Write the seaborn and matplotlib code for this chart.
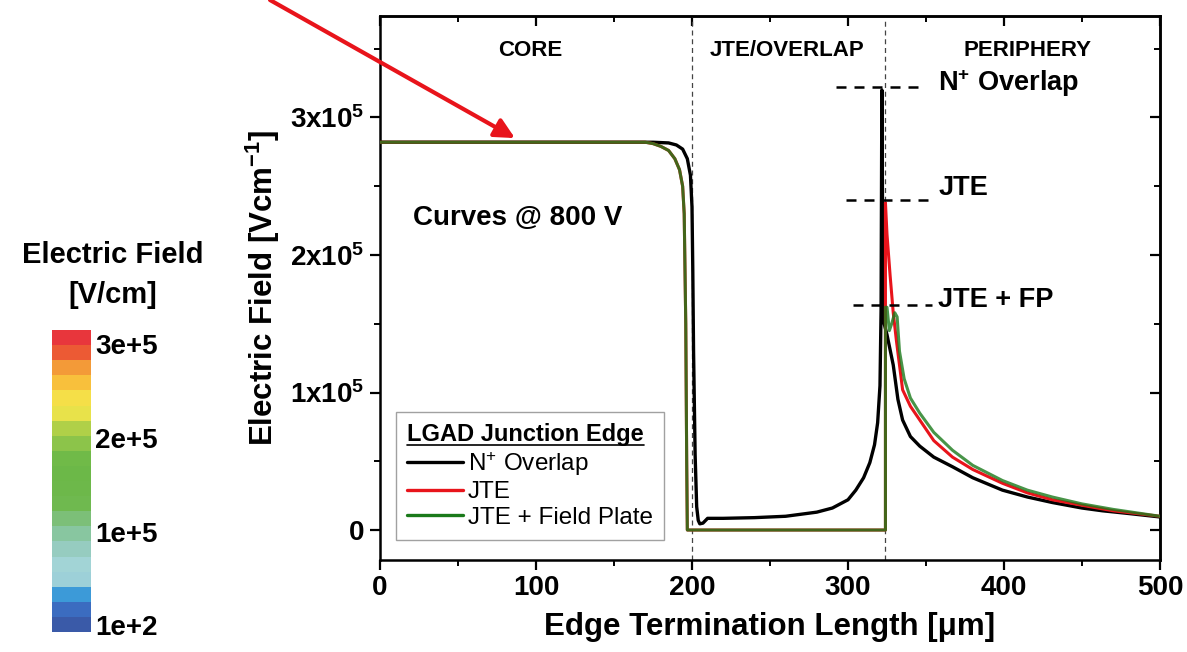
import matplotlib
matplotlib.use("Agg")
import matplotlib.pyplot as plt
import matplotlib as mpl
from matplotlib.colors import ListedColormap, Normalize
from matplotlib.lines import Line2D
import numpy as np
import pandas as pd
import seaborn as sns

# ---------------- data (field in units of 1e5 V/cm) ----------------
x_overlap = [0, 50, 100, 150, 175, 185, 190, 194, 197, 199, 200, 200.5, 201, 202, 203, 204,
             205, 207, 210, 220, 240, 260, 280, 290, 300, 305, 310, 314, 317, 319, 320.5,
             321.2, 321.7, 322.2, 322.6, 323.2, 325, 329, 332, 335, 340, 346, 355, 367, 380,
             399, 415, 431, 450, 463, 480, 500]
e_overlap = [2.82, 2.82, 2.82, 2.82, 2.82, 2.815, 2.80, 2.77, 2.70, 2.58, 2.35, 1.9, 1.3, 0.55,
             0.17, 0.07, 0.045, 0.05, 0.085, 0.085, 0.09, 0.10, 0.13, 0.16, 0.22, 0.29, 0.38,
             0.49, 0.62, 0.78, 1.05, 1.6, 3.2, 2.2, 1.7, 1.5, 1.42, 1.2, 0.95, 0.80, 0.68, 0.61,
             0.53, 0.46, 0.38, 0.29, 0.24, 0.20, 0.16, 0.14, 0.12, 0.095]

x_jte = [0, 50, 100, 150, 170, 175, 180, 185, 189, 192, 194, 195, 196, 196.6, 197, 250,
         324, 324, 325, 327, 329, 331, 333, 335, 340, 346, 355, 367, 380, 399, 415, 431,
         450, 470, 500]
e_jte = [2.82, 2.82, 2.82, 2.82, 2.82, 2.81, 2.79, 2.76, 2.70, 2.62, 2.50, 2.30, 1.50, 0.50,
         0.0, 0.0, 0.0, 2.38, 2.15, 1.85, 1.58, 1.38, 1.20, 1.02, 0.90, 0.80, 0.65, 0.53,
         0.44, 0.34, 0.27, 0.22, 0.18, 0.14, 0.10]

x_fp = [0, 50, 100, 150, 170, 175, 180, 185, 189, 192, 194, 195, 196, 196.6, 197, 250,
        324, 324, 325, 326.5, 328, 330, 331.5, 333, 336, 340, 346, 355, 367, 380, 399, 415,
        431, 450, 470, 500]
e_fp = [2.82, 2.82, 2.82, 2.82, 2.82, 2.81, 2.79, 2.76, 2.70, 2.62, 2.50, 2.30, 1.50, 0.50,
        0.0, 0.0, 0.0, 1.62, 1.62, 1.45, 1.50, 1.58, 1.55, 1.30, 1.10, 0.96, 0.85, 0.71,
        0.58, 0.47, 0.36, 0.29, 0.24, 0.19, 0.15, 0.10]

series_labels = [r"N$^{+}$ Overlap", "JTE", "JTE + Field Plate"]
series_colors = ["#000000", "#e8141b", "#1a7a1a"]

x_ticks = [0, 100, 200, 300, 400, 500]
y_ticks = [0, 1e5, 2e5, 3e5]
y_tick_labels = ["0", r"$\mathbf{1x10^{5}}$", r"$\mathbf{2x10^{5}}$", r"$\mathbf{3x10^{5}}$"]
region_labels = ["CORE", "JTE/OVERLAP", "PERIPHERY"]
region_x = [96, 261, 415]
region_bounds = [200, 324]

peak_labels = [r"N$^{\mathbf{+}}$ Overlap", "JTE", "JTE + FP"]
peak_values = [3.22e5, 2.40e5, 1.64e5]

cbar_colors = ["#3a5aa8", "#3b6cc0", "#3c9ad8", "#9dd0d8", "#a2d4d6", "#96ccc0", "#88c6a0",
               "#7cbf78", "#6fb94f", "#6db84a", "#6cb848", "#70ba48", "#8cc44a", "#b0d048",
               "#e8e24a", "#f5df48", "#f8c03c", "#f39a38", "#ec5a34", "#e8363c"]
cbar_ticks = [1e2, 1e5, 2e5, 3e5]
cbar_tick_labels = ["1e+2", "1e+5", "2e+5", "3e+5"]

# ---------------- style ----------------
sns.set_theme(style="ticks")
plt.rcParams["font.family"] = ["Liberation Sans", "DejaVu Sans"]
plt.rcParams["mathtext.fontset"] = "custom"
plt.rcParams["mathtext.rm"] = "Liberation Sans"
plt.rcParams["mathtext.bf"] = "Liberation Sans:bold"
plt.rcParams["mathtext.it"] = "Liberation Sans:italic"
for key in ["text.color", "axes.labelcolor", "xtick.color", "ytick.color", "axes.edgecolor"]:
    plt.rcParams[key] = "black"

W, H = 1187, 652
fig = plt.figure(figsize=(W / 100, H / 100), dpi=100)
fig.patch.set_facecolor("white")
ax = fig.add_axes([380 / W, 92 / H, 780 / W, 544 / H])
ax.set_facecolor("white")

# region separators
for xb in region_bounds:
    ax.axvline(xb, color="#444444", lw=0.9, ls=(0, (4, 3)), zorder=1)

frames = [
    pd.DataFrame({"x": x_overlap, "E": np.array(e_overlap) * 1e5}),
    pd.DataFrame({"x": x_jte, "E": np.array(e_jte) * 1e5}),
    pd.DataFrame({"x": x_fp, "E": np.array(e_fp) * 1e5}),
]
lws = [2.4, 2.2, 2.2]
alphas = [1.0, 1.0, 0.8]
for i, df in enumerate(frames):
    sns.lineplot(data=df, x="x", y="E", sort=False, estimator=None, color=series_colors[i],
                 lw=lws[i], alpha=alphas[i], ax=ax, legend=False, zorder=3 + i)

ax.set_xlim(0, 500)
ax.set_ylim(-0.218e5, 3.738e5)
ax.set_xticks(x_ticks)
ax.set_xticks(np.arange(50, 500, 100), minor=True)
ax.set_yticks(y_ticks)
ax.set_yticklabels(y_tick_labels)
ax.set_yticks(np.arange(0.5e5, 3.6e5, 1e5), minor=True)
for lab in ax.get_xticklabels() + ax.get_yticklabels():
    lab.set_fontweight("bold")
    lab.set_fontsize(20)
ax.tick_params(axis="both", which="major", direction="out", length=7, width=1.6, pad=4,
               colors="black", labelsize=20)
ax.tick_params(axis="both", which="minor", direction="out", length=4, width=1.4)
for sp in ax.spines.values():
    sp.set_linewidth(1.8)
    sp.set_color("black")
    sp.set_visible(True)

# top / right inward ticks
secx = ax.secondary_xaxis("top")
secx.set_xticks(x_ticks)
secx.set_xticks(np.arange(50, 500, 100), minor=True)
secx.tick_params(which="major", direction="in", length=7, width=1.6, labeltop=False)
secx.tick_params(which="minor", direction="in", length=4, width=1.4)
secx.spines["top"].set_linewidth(1.8)
secy = ax.secondary_yaxis("right")
secy.set_yticks(y_ticks)
secy.set_yticks(np.arange(0.5e5, 3.6e5, 1e5), minor=True)
secy.tick_params(which="major", direction="in", length=7, width=1.6, labelright=False)
secy.tick_params(which="minor", direction="in", length=4, width=1.4)
secy.spines["right"].set_linewidth(1.8)

ax.set_xlabel("Edge Termination Length [μm]", fontsize=22.5, fontweight="bold", labelpad=8)
ax.set_ylabel(r"Electric Field [Vcm$^{\mathbf{-1}}$]", fontsize=22.5, fontweight="bold",
              labelpad=6)

# region labels
for lab, xr in zip(region_labels, region_x):
    ax.text(xr, 3.49e5, lab, ha="center", va="center", fontsize=16, fontweight="bold")

ax.text(21, 2.27e5, "Curves @ 800 V", ha="left", va="center", fontsize=20, fontweight="bold")

# peak markers
peak_line_x = [(292, 346), (299, 351), (303, 354)]
peak_text_dy = [0.03e5, 0.09e5, 0.03e5]
for (x0, x1), yv, lab, dy in zip(peak_line_x, peak_values, peak_labels, peak_text_dy):
    ax.plot([x0, x1], [yv, yv], color="black", lw=1.8, ls=(0, (4, 3.2)), zorder=8)
    ax.text(358, yv + dy, lab, ha="left", va="center", fontsize=19.5, fontweight="bold")

# red arrow
ax.annotate("", xy=(86.5, 2.85e5), xycoords="data",
            xytext=(270 / W, 1.0), textcoords="figure fraction",
            arrowprops=dict(arrowstyle="-|>", color="#e8141b", lw=3.0, mutation_scale=30,
                            shrinkA=0, shrinkB=0),
            annotation_clip=False, zorder=10)

# legend
handles = [Line2D([], [], color=c, lw=2.4) for c in series_colors]
leg = ax.legend(handles, series_labels, loc="lower left", bbox_to_anchor=(0.0205, 0.037),
                fontsize=17.5, title="LGAD Junction Edge", frameon=True, fancybox=False,
                edgecolor="#8a8a8a", handlelength=2.3, handletextpad=0.2, labelspacing=0.15,
                borderpad=0.45, borderaxespad=0, alignment="left")
leg.get_title().set_fontweight("bold")
leg.get_title().set_fontsize(17)
leg.get_frame().set_linewidth(1.0)
leg.set_zorder(12)

# colour bar
cax = fig.add_axes([52 / W, (H - 632) / H, 39 / W, 302 / H])
cmap = ListedColormap(cbar_colors)
norm = Normalize(vmin=-0.07e5, vmax=3.15e5)
cb = mpl.colorbar.ColorbarBase(cax, cmap=cmap, norm=norm, orientation="vertical")
cb.outline.set_visible(False)
cb.set_ticks(cbar_ticks)
cb.set_ticklabels(cbar_tick_labels)
cax.tick_params(length=0, pad=3, labelsize=20, colors="black")
for lab in cax.get_yticklabels():
    lab.set_fontweight("bold")
fig.text(113 / W, 1 - 255 / H, "Electric Field", ha="center", va="center", fontsize=21,
         fontweight="bold")
fig.text(113 / W, 1 - 295 / H, "[V/cm]", ha="center", va="center", fontsize=21,
         fontweight="bold")

# underline legend title
fig.canvas.draw()
bb = leg.get_title().get_window_extent()
inv = fig.transFigure.inverted()
(x0f, y0f), (x1f, _) = inv.transform([(bb.x0, bb.y0 + 1), (bb.x1, bb.y0)])
fig.add_artist(Line2D([x0f, x1f], [y0f, y0f], color="black", lw=1.2, transform=fig.transFigure,
                      zorder=20))

fig.savefig("out.png", dpi=100, facecolor="white")
